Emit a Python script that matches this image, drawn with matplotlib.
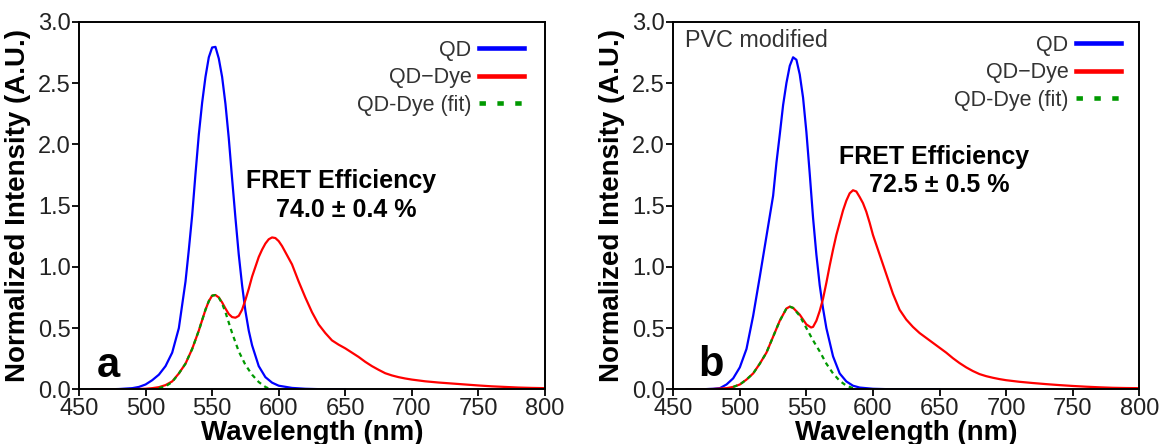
import matplotlib
matplotlib.use("Agg")
import matplotlib.pyplot as plt
from matplotlib.lines import Line2D

plt.rcParams['font.family'] = ['Liberation Sans', 'DejaVu Sans']

# --- panel a: QD / QD-Dye spectra ---
qd_a_wl = [460, 470, 480, 490, 495, 500, 505, 510, 515, 520, 525, 530, 532.5, 535, 537.5,
           540, 542.5, 545, 547.5, 550, 552.5, 555, 557.5, 560, 562.5, 565, 567.5, 570,
           572.5, 575, 577.5, 580, 585, 590, 595, 600, 610, 620, 630, 640, 650]
qd_a = [0.0, 0.0, 0.003, 0.01, 0.02, 0.04, 0.075, 0.12, 0.19, 0.30, 0.50, 0.88, 1.14,
        1.42, 1.76, 2.08, 2.34, 2.55, 2.71, 2.79, 2.795, 2.70, 2.55, 2.33, 2.05, 1.72,
        1.40, 1.10, 0.85, 0.64, 0.48, 0.36, 0.19, 0.10, 0.055, 0.03, 0.012, 0.005,
        0.002, 0.001, 0.0]

dye_a_wl = [460, 480, 490, 500, 505, 510, 515, 520, 525, 530, 535, 540, 545, 547.5, 550,
            552.5, 555, 557.5, 560, 562.5, 565, 567.5, 570, 572.5, 575, 577.5, 580, 582.5,
            585, 587.5, 590, 592.5, 595, 597.5, 600, 602.5, 605, 607.5, 610, 615, 620,
            625, 630, 635, 640, 645, 650, 655, 660, 665, 670, 675, 680, 685, 690, 695,
            700, 710, 720, 730, 740, 750, 760, 770, 780, 790, 800]
dye_a = [0.0, 0.0, 0.002, 0.005, 0.01, 0.018, 0.035, 0.065, 0.13, 0.21, 0.33, 0.48, 0.65,
         0.72, 0.765, 0.77, 0.75, 0.71, 0.66, 0.615, 0.59, 0.585, 0.60, 0.65, 0.73, 0.82,
         0.92, 1.00, 1.08, 1.14, 1.19, 1.225, 1.24, 1.235, 1.21, 1.17, 1.12, 1.07, 1.02,
         0.88, 0.75, 0.63, 0.53, 0.46, 0.40, 0.365, 0.335, 0.30, 0.265, 0.225, 0.19,
         0.16, 0.132, 0.114, 0.10, 0.089, 0.08, 0.066, 0.056, 0.048, 0.04, 0.032, 0.025,
         0.02, 0.015, 0.012, 0.01]

fit_a_wl = [510, 515, 520, 525, 530, 535, 540, 545, 547.5, 550, 552.5, 555, 557.5, 560,
            565, 570, 575, 580, 585, 590, 593]
fit_a = [0.01, 0.025, 0.06, 0.13, 0.21, 0.33, 0.48, 0.65, 0.72, 0.765, 0.77, 0.75, 0.70,
         0.63, 0.46, 0.31, 0.20, 0.12, 0.06, 0.02, 0.005]

# --- panel b: PVC modified ---
qd_b_wl = [460, 470, 480, 485, 490, 495, 500, 505, 510, 515, 520, 525, 527.5, 530, 532.5,
           535, 537.5, 540, 542.5, 545, 547.5, 550, 552.5, 555, 557.5, 560, 562.5, 565,
           570, 575, 580, 585, 590, 600, 610, 620, 630, 640, 650]
qd_b = [0.0, 0.0, 0.005, 0.01, 0.04, 0.09, 0.18, 0.33, 0.60, 0.92, 1.25, 1.58, 1.85,
        2.08, 2.32, 2.50, 2.64, 2.71, 2.69, 2.57, 2.38, 2.10, 1.76, 1.40, 1.10, 0.85,
        0.66, 0.50, 0.27, 0.13, 0.065, 0.03, 0.015, 0.005, 0.002, 0.0, 0.0, 0.0, 0.0]

dye_b_wl = [460, 480, 490, 495, 500, 505, 510, 515, 520, 525, 530, 535, 537.5, 540, 545,
            550, 553.5, 555, 557.5, 560, 562.5, 565, 567.5, 570, 572.5, 575, 577.5, 580,
            582.5, 585, 587.5, 590, 592.5, 595, 597.5, 600, 602.5, 605, 610, 615, 620,
            625, 630, 635, 640, 645, 650, 655, 660, 665, 670, 675, 680, 685, 690, 695,
            700, 710, 720, 730, 740, 750, 760, 770, 780, 790, 800]
dye_b = [0.0, 0.003, 0.01, 0.02, 0.04, 0.08, 0.13, 0.21, 0.30, 0.43, 0.56, 0.66, 0.675,
         0.665, 0.61, 0.53, 0.505, 0.51, 0.56, 0.64, 0.74, 0.87, 1.01, 1.14, 1.26, 1.36,
         1.46, 1.54, 1.60, 1.625, 1.615, 1.57, 1.52, 1.45, 1.36, 1.26, 1.18, 1.10, 0.94,
         0.78, 0.65, 0.57, 0.51, 0.46, 0.42, 0.38, 0.34, 0.30, 0.255, 0.215, 0.18, 0.15,
         0.125, 0.108, 0.095, 0.084, 0.075, 0.062, 0.052, 0.043, 0.035, 0.028, 0.022,
         0.017, 0.013, 0.011, 0.01]

fit_b_wl = [495, 500, 505, 510, 515, 520, 525, 530, 535, 537.5, 540, 545, 550, 555, 560,
            565, 570, 575, 580, 585]
fit_b = [0.02, 0.04, 0.08, 0.13, 0.21, 0.30, 0.43, 0.56, 0.66, 0.675, 0.665, 0.60, 0.50,
         0.40, 0.31, 0.21, 0.13, 0.07, 0.03, 0.01]

legend_labels = ['QD', 'QD\u2212Dye', 'QD-Dye (fit)']
xticks = [450, 500, 550, 600, 650, 700, 750, 800]
yticks = [0.0, 0.5, 1.0, 1.5, 2.0, 2.5, 3.0]

BLUE, RED, GREEN = '#0000ff', '#ff0000', '#009900'
GREY = '#333333'


def draw_panel(ax, qd_wl, qd, dye_wl, dye, fit_wl, fit, letter, fret, fret_xy, leg_anchor):
    ax.plot(qd_wl, qd, color=BLUE, lw=1.6, solid_joinstyle='round')
    ax.plot(dye_wl, dye, color=RED, lw=1.6, solid_joinstyle='round')
    ax.plot(fit_wl, fit, color=GREEN, lw=1.6, linestyle=(0, (2.0, 1.8)))

    ax.set_xlim(450, 800)
    ax.set_ylim(0, 3)
    ax.set_xticks(xticks)
    ax.set_yticks(yticks)
    ax.set_yticklabels([f'{v:.1f}' for v in yticks])
    ax.tick_params(direction='out', length=5, width=1.3, labelsize=17,
                   labelcolor='#222222', pad=1)
    for sp in ax.spines.values():
        sp.set_linewidth(1.4)
    ax.set_xlabel('Wavelength (nm)', fontsize=20, fontweight='bold', labelpad=0)
    ax.set_ylabel('Normalized Intensity (A.U.)', fontsize=20, fontweight='bold', labelpad=5)

    handles = [Line2D([], [], color=BLUE, lw=3.3),
               Line2D([], [], color=RED, lw=3.3),
               Line2D([], [], color=GREEN, lw=3.3, linestyle=(0, (1.4, 2.5)))]
    ax.legend(handles, legend_labels, loc='upper right', bbox_to_anchor=leg_anchor,
              frameon=False, markerfirst=False, fontsize=15.5, handlelength=2.1,
              handletextpad=0.35, labelspacing=0.3, borderpad=0, borderaxespad=0,
              labelcolor=GREY)

    ax.text(fret_xy[0], fret_xy[1], 'FRET Efficiency', fontsize=18, fontweight='bold',
            ha='center', va='center')
    ax.text(fret_xy[0] + 4, fret_xy[1] - 0.235, fret, fontsize=18, fontweight='bold',
            ha='center', va='center')
    ax.text(letter[1], letter[2], letter[0], fontsize=30, fontweight='bold',
            ha='left', va='baseline')


fig = plt.figure(figsize=(11.6, 4.44), dpi=100)
ax_a = fig.add_axes([0.0681, 0.123, 0.4017, 0.828])
ax_b = fig.add_axes([0.5804, 0.123, 0.4017, 0.828])

draw_panel(ax_a, qd_a_wl, qd_a, dye_a_wl, dye_a, fit_a_wl, fit_a,
           ('a', 463, 0.10), '74.0 \u00b1 0.4 %', (647, 1.70), (0.955, 0.951))
draw_panel(ax_b, qd_b_wl, qd_b, dye_b_wl, dye_b, fit_b_wl, fit_b,
           ('b', 469, 0.11), '72.5 \u00b1 0.5 %', (646, 1.90), (0.961, 0.965))
ax_b.text(459, 2.85, 'PVC modified', fontsize=16.8, color=GREY, ha='left', va='center')

fig.savefig('out.png', dpi=100)
